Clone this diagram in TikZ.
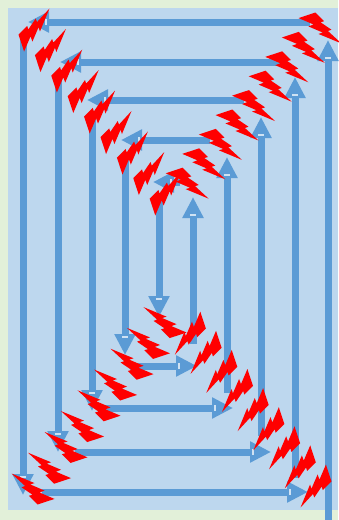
\documentclass[tikz,border=0pt]{standalone}
\usetikzlibrary{arrows.meta,decorations.markings}
\definecolor{paleGreen}{HTML}{E2F0D9}
\definecolor{paleBlue}{HTML}{BDD7EE}
\definecolor{lineBlue}{HTML}{5B9BD5}
\definecolor{notchBlue}{HTML}{CFE2F3}
\definecolor{boltRed}{HTML}{FF0000}
\tikzset{
  seg/.style={draw=lineBlue,line width=7pt,-{Triangle[width=20pt,length=21pt]},
    postaction={decorate},
    decoration={markings,mark=at position -18pt with {\fill[notchBlue] (-1pt,-3pt) rectangle (1pt,3pt);}}},
  bolt/.pic={
    \fill[boltRed,xscale=43,yscale=31] (-0.108,-0.5) -- (0.095,-0.219) -- (0.012,-0.185) -- (0.267,0.056)
      -- (0.184,0.096) -- (0.5,0.5) -- (-0.036,0.191) -- (0.066,0.148) -- (-0.268,-0.051)
      -- (-0.148,-0.112) -- (-0.5,-0.32) -- cycle;
  }
}

\begin{document}
\begin{tikzpicture}[x=1pt,y=-1pt]

\useasboundingbox[fill=paleGreen] (0,0) rectangle (338,520);
\fill[paleBlue] (8,8) rectangle (338,510);

% spiral, outer ring first
\foreach \xa/\ya/\xb/\yb in {
  328/520/328/40, 310/22/28/22, 23/38/23/495, 42/492/308/492,
  295/478/295/77, 282/62/60/62, 58/79/58/452, 75/452/271/452,
  261/436/261/117, 244/100/87/100, 92/118/92/411, 105/408/233/408,
  227/393/227/157, 210/140/121/140, 125/158/125/355, 130/366/197/366,
  193/344/193/197, 180/182/153/182, 159/200/159/317}
  \draw[seg] (\xa,\ya) -- (\xb,\yb);

% bolts along the four diagonals
\foreach \k in {0,...,8}{
  \pic[rotate=90] at ({34+16.4*\k},{30+20.5*\k}) {bolt};
  \pic at ({320-16.6*\k},{28+19.4*\k}) {bolt};
  \pic[rotate=-90] at ({316-15.7*\k},{486-19.1*\k}) {bolt};
  \pic[rotate=180] at ({33+16.5*\k},{489-20.8*\k}) {bolt};
}

\end{tikzpicture}
\end{document}
